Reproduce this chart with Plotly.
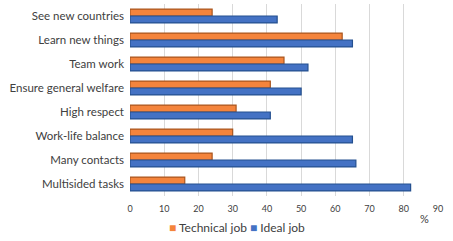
import plotly.graph_objects as go

categories = ["See new countries", "Learn new things", "Team work", "Ensure general welfare",
              "High respect", "Work-life balance", "Many contacts", "Multisided tasks"]
technical_job = [24, 62, 45, 41, 31, 30, 24, 16]
ideal_job = [43, 65, 52, 50, 41, 65, 66, 82]
x_ticks = [0, 10, 20, 30, 40, 50, 60, 70, 80, 90]
series_names = ["Technical job", "Ideal job"]
series_colors = ["#F4843C", "#4472C4"]
edge_colors = ["#A9561F", "#24508F"]

FONT = "Lato"

fig = go.Figure()
for name, vals, col, edge in zip(series_names, [technical_job, ideal_job], series_colors, edge_colors):
    fig.add_trace(go.Bar(
        y=categories, x=vals, orientation="h", name=name,
        marker=dict(color=col, line=dict(color=edge, width=1.2)),
    ))

legend_text = "&nbsp;".join(
    f"<span style='color:{c}'>■</span>&nbsp;{n}" for n, c in zip(series_names, series_colors))

fig.update_layout(
    width=453, height=241,
    margin=dict(l=130, r=15, t=4, b=45),
    paper_bgcolor="white", plot_bgcolor="white",
    barmode="group", bargap=0.42, bargroupgap=0.0,
    font=dict(family=FONT, size=11, color="#404040"),
    showlegend=False,
    xaxis=dict(range=[0, 90], tickvals=x_ticks, showgrid=True, gridcolor="#D9D9D9",
               gridwidth=1, zeroline=False, showline=False, ticks="", automargin=False,
               tickfont=dict(family=FONT, size=9, color="#404040"), ticklabelstandoff=6),
    yaxis=dict(autorange="reversed", showgrid=False, showline=False, ticks="", automargin=False,
               tickfont=dict(family=FONT, size=11.5, color="#404040"), ticklabelstandoff=5),
    annotations=[
        dict(text="%", xref="paper", yref="paper", x=0.955, y=-0.115,
             showarrow=False, font=dict(family=FONT, size=11, color="#404040"),
             xanchor="center", yanchor="middle"),
        dict(text=legend_text, xref="paper", yref="paper", x=0.347, y=-0.162,
             showarrow=False, font=dict(family=FONT, size=12, color="#404040"),
             xanchor="center", yanchor="middle"),
    ],
)

fig.write_html("out.html", config={"displayModeBar": False},
               post_script="document.body.style.margin='0';")
